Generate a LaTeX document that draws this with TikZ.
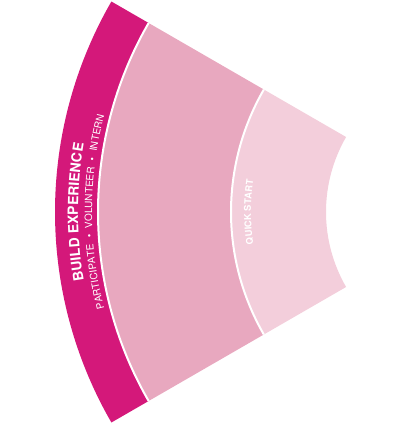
\documentclass[tikz,border=0pt]{standalone}
\usepackage{fontspec}
\setmainfont{TeX Gyre Heros}
\usepackage{tikz}
\usetikzlibrary{decorations.text}

\definecolor{buildpink}{RGB}{212,24,122}
\definecolor{midpink}{RGB}{232,168,191}
\definecolor{lightpink}{RGB}{243,206,219}

\tikzset{
  arctext/.style={decorate,decoration={text along path,text color=white,text align=center,text={#1}}},
  gapline/.style={draw=white,line width=2pt}
}
% band between two radii, 150 to 210 degrees
\newcommand{\band}[3]{\fill[#3] (150:#2) arc[start angle=150,end angle=210,radius=#2] -- (210:#1) arc[start angle=210,end angle=150,radius=#1] -- cycle;}

\begin{document}
\begin{tikzpicture}[x=1pt,y=1pt]
\useasboundingbox (0,0) rectangle (400,-424);
\begin{scope}[shift={(476,-212)}]
\band{378}{421}{buildpink}
\band{245}{378}{midpink}
\band{150}{245}{lightpink}
\draw[gapline] (150:378) arc[start angle=150,end angle=210,radius=378];
\draw[gapline] (150:245) arc[start angle=150,end angle=210,radius=245];

\path[arctext={|\bfseries\fontsize{14}{14}\selectfont|BUILD EXPERIENCE}] (210:398) arc[start angle=210,end angle=150,radius=398];
\path[arctext={|\fontsize{10}{10}\selectfont|PARTICIPATE{\hspace{6pt}}•{\hspace{6pt}}VOLUNTEER{\hspace{6pt}}•{\hspace{6pt}}INTERN}] (210:384) arc[start angle=210,end angle=150,radius=384];
\path[arctext={|\bfseries\fontsize{9.4}{9.4}\selectfont|QUICK START}] (210:225) arc[start angle=210,end angle=150,radius=225];
\end{scope}
\end{tikzpicture}
\end{document}
